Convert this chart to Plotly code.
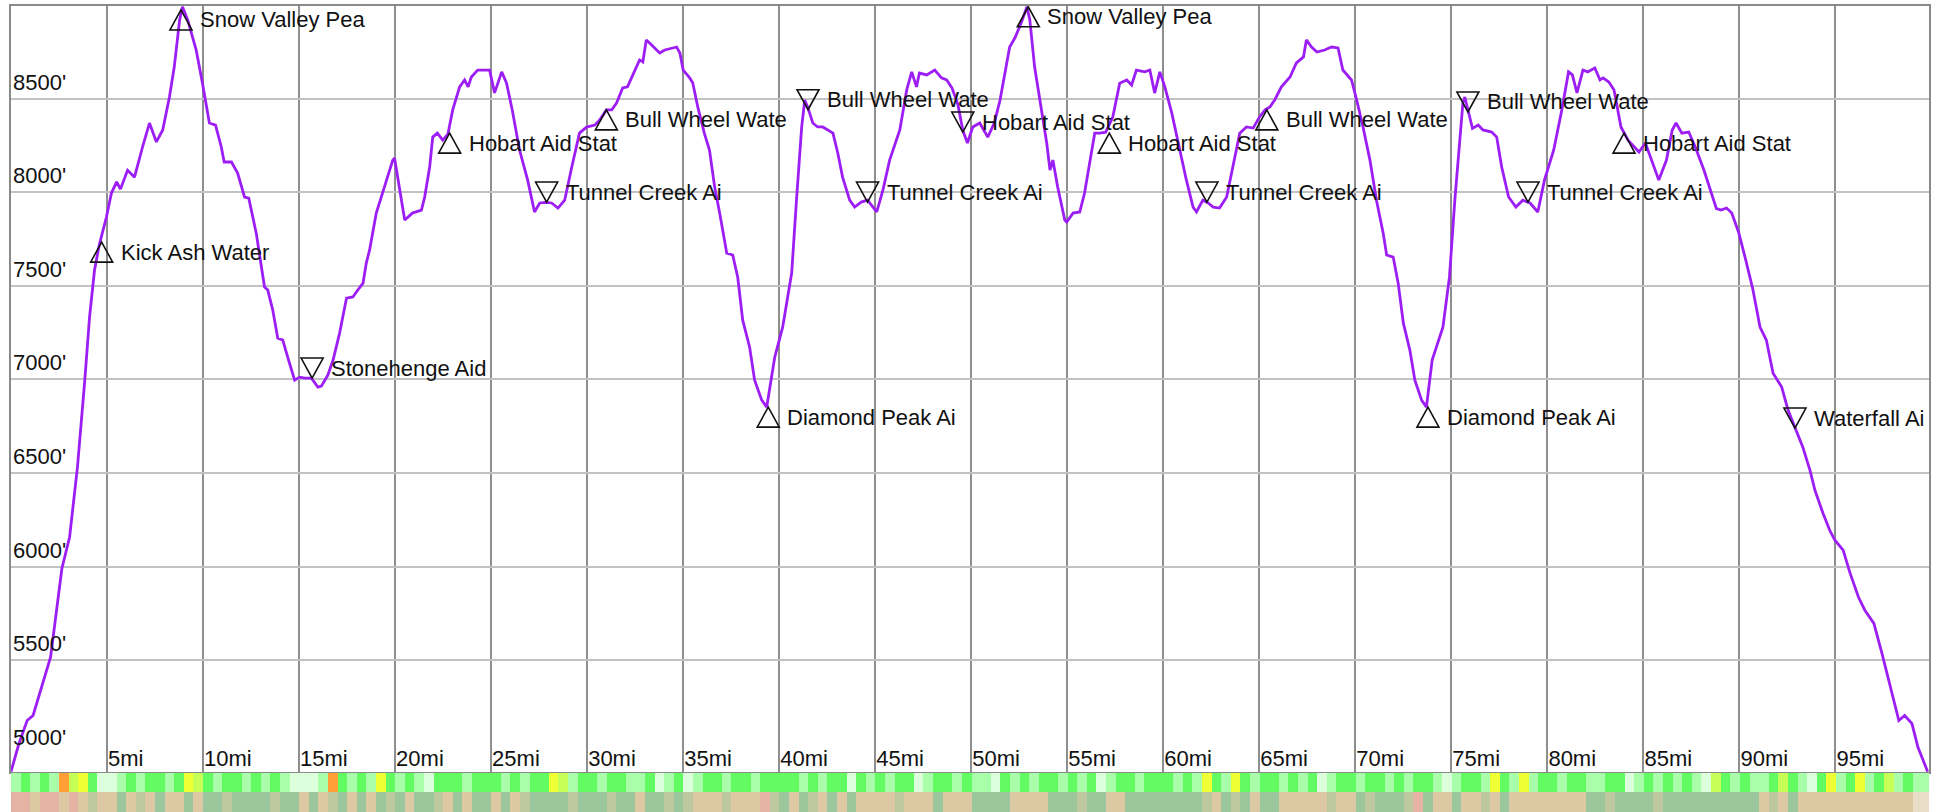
import plotly.graph_objects as go

# ---------------- data ----------------
miles = [0.0, 0.4, 0.84, 1.15, 2.06, 2.65, 3.05, 3.46, 3.83, 4.09, 4.35, 4.6, 4.97, 5.23, 5.5, 5.7,
         6.07, 6.43, 6.85, 7.21, 7.57, 7.9, 8.25, 8.5, 8.78, 8.93, 9.2, 9.64, 9.97, 10.33, 10.65,
         10.95, 11.1, 11.48, 11.8, 12.16, 12.38, 12.77, 13.04, 13.2, 13.37, 13.63, 13.89, 14.15,
         14.5, 14.77, 15.03, 15.3, 15.64, 15.98, 16.16, 16.5, 16.77, 17.11, 17.47, 17.8, 18.06,
         18.33, 18.5, 18.67, 19.02, 19.54, 19.88, 19.97, 20.23, 20.5, 20.9, 21.37, 21.54, 21.8,
         21.96, 22.2, 22.48, 22.75, 23.0, 23.36, 23.62, 23.8, 23.97, 24.3, 24.56, 24.92, 25.18,
         25.55, 25.8, 26.1, 26.48, 26.9, 27.26, 27.53, 27.85, 28.15, 28.48, 28.83, 29.2, 29.6,
         29.97, 30.4, 30.65, 31.0, 31.28, 31.53, 31.85, 32.1, 32.38, 32.73, 32.9, 33.08, 33.25,
         33.5, 33.78, 34.04, 34.4, 34.66, 34.83, 35.0, 35.34, 35.5, 35.76, 36.1, 36.37, 36.64,
         36.9, 37.27, 37.58, 37.84, 38.1, 38.46, 38.72, 39.09, 39.35, 39.77, 40.18, 40.65, 40.9,
         41.17, 41.33, 41.48, 41.75, 42.0, 42.27, 42.53, 42.8, 43.05, 43.3, 43.67, 43.93, 44.27,
         44.6, 45.08, 45.4, 45.75, 46.28, 46.64, 46.9, 47.15, 47.3, 47.68, 48.1, 48.45, 48.72,
         49.0, 49.3, 49.56, 49.8, 50.08, 50.44, 50.86, 51.2, 51.5, 51.75, 52.0, 52.27, 52.6,
         52.9, 53.05, 53.3, 53.67, 53.93, 54.1, 54.25, 54.5, 54.87, 54.97, 55.3, 55.65, 55.9,
         56.28, 56.43, 56.7, 57.0, 57.37, 57.73, 58.1, 58.35, 58.6, 59.04, 59.3, 59.55, 59.82,
         60.08, 60.44, 60.86, 61.2, 61.55, 61.73, 62.06, 62.3, 62.6, 62.93, 63.3, 63.64, 63.98,
         64.33, 64.68, 65.0, 65.3, 65.55, 65.8, 66.15, 66.6, 66.93, 67.3, 67.45, 67.72, 68.0,
         68.4, 68.76, 69.1, 69.35, 69.8, 70.07, 70.4, 70.76, 71.1, 71.45, 71.63, 71.97, 72.23,
         72.5, 72.84, 73.1, 73.45, 73.7, 74.0, 74.56, 74.9, 75.18, 75.36, 75.6, 75.7, 75.86,
         76.1, 76.4, 76.64, 77.1, 77.36, 77.62, 77.98, 78.36, 78.72, 79.1, 79.5, 79.85, 80.33,
         80.75, 81.1, 81.3, 81.54, 81.85, 82.1, 82.47, 82.74, 82.9, 83.2, 83.47, 83.83, 84.2,
         84.77, 85.1, 85.44, 85.8, 86.2, 86.5, 86.7, 87.0, 87.36, 87.7, 88.15, 88.5, 88.8, 89.04,
         89.33, 89.6, 89.97, 90.33, 90.7, 91.07, 91.4, 91.75, 92.2, 92.53, 93.0, 93.3, 93.67,
         93.93, 94.35, 94.7, 94.97, 95.4, 95.76, 96.2, 96.53, 97.0, 97.42, 97.88, 98.3, 98.6,
         98.98, 99.3, 99.8]

elev_ft = [4905, 5050, 5178, 5205, 5516, 5990, 6157, 6531, 6980, 7333, 7584, 7720, 7867, 7995, 8055, 8016,
           8117, 8080, 8241, 8369, 8268, 8332, 8508, 8668, 8919, 8990, 8920, 8760, 8582, 8369, 8358,
           8241, 8161, 8161, 8102, 7974, 7968, 7781, 7600, 7493, 7477, 7370, 7220, 7210,
           7087, 6996, 7012, 7007, 7007, 6959, 6964, 7023, 7103, 7247, 7434, 7440, 7477,
           7514, 7621, 7690, 7888, 8064, 8171, 8182, 8027, 7851, 7888, 7904, 7974, 8134,
           8294, 8315, 8278, 8310, 8439, 8562, 8599, 8562, 8615, 8652, 8652, 8652, 8530,
           8642, 8583, 8439, 8225, 8065, 7894, 7942, 7945, 7942, 7915, 7957, 8134, 8315,
           8347, 8358, 8385, 8439, 8439, 8476, 8556, 8562, 8626, 8706, 8695, 8813, 8796,
           8770, 8743, 8759, 8770, 8775, 8743, 8652, 8610, 8583, 8455, 8315, 8225, 8027,
           7888, 7674, 7664, 7546, 7316, 7172, 6996, 6889, 6852, 7119, 7279, 7568, 7957,
           8347, 8492, 8455, 8369, 8348, 8348, 8332, 8315, 8209, 8080, 7957, 7920, 7947,
           7957, 7894, 8011, 8171, 8332, 8546, 8642, 8562, 8636, 8626, 8652, 8610, 8599,
           8556, 8470, 8330, 8262, 8348, 8369, 8294, 8369, 8492, 8636, 8775, 8823, 8903,
           8990, 8920, 8668, 8439, 8262, 8118, 8171, 8027, 7851, 7840, 7888, 7894, 7995,
           8225, 8315, 8315, 8320, 8401, 8582, 8599, 8572, 8652, 8642, 8652, 8529, 8642,
           8562, 8423, 8225, 8065, 7920, 7894, 7957, 7945, 7920, 7915, 7974, 8155, 8315,
           8348, 8342, 8400, 8439, 8455, 8492, 8562, 8615, 8690, 8722, 8813, 8775, 8748,
           8759, 8775, 8770, 8652, 8599, 8492, 8348, 8171, 7957, 7781, 7664, 7653, 7514,
           7300, 7156, 6996, 6889, 6852, 7103, 7279, 7546, 7957, 8171, 8476, 8508, 8439,
           8340, 8358, 8332, 8321, 8294, 8134, 7974, 7920, 7957, 7942, 7894, 8065, 8225,
           8439, 8642, 8626, 8530, 8652, 8642, 8663, 8599, 8610, 8588, 8545, 8348, 8278,
           8214, 8262, 8171, 8065, 8171, 8332, 8369, 8315, 8321, 8241, 8118, 8011, 7912, 7904,
           7915, 7888, 7781, 7637, 7480, 7279, 7210, 7033, 6959, 6836, 6711, 6638, 6515,
           6408, 6285, 6194, 6141, 6088, 5965, 5836, 5767, 5697, 5537, 5355, 5178, 5205,
           5162, 5034, 4905]

station_names = ["Kick Ash Water", "Snow Valley Pea", "Stonehenge Aid", "Hobart Aid Stat",
                 "Tunnel Creek Ai", "Bull Wheel Wate", "Diamond Peak Ai", "Bull Wheel Wate",
                 "Tunnel Creek Ai", "Hobart Aid Stat", "Snow Valley Pea", "Hobart Aid Stat",
                 "Tunnel Creek Ai", "Bull Wheel Wate", "Diamond Peak Ai", "Bull Wheel Wate",
                 "Tunnel Creek Ai", "Hobart Aid Stat", "Waterfall Ai"]
station_miles = [4.72, 8.85, 15.68, 22.84, 27.89, 31.0, 39.43, 41.5, 44.6, 49.56, 52.97,
                 57.19, 62.27, 65.39, 73.78, 75.86, 78.99, 83.99, 92.89]
station_elev = [7733, 8973, 7007, 8315, 7947, 8439, 6852, 8440, 7947, 8321, 8990,
                8315, 7947, 8439, 6852, 8428, 7947, 8315, 6740]
station_dir = ["up", "up", "down", "up", "down", "up", "up", "down", "down", "down", "up",
               "up", "down", "up", "up", "down", "down", "up", "down"]

x_tick_vals = [5, 10, 15, 20, 25, 30, 35, 40, 45, 50, 55, 60, 65, 70, 75, 80, 85, 90, 95]
x_tick_text = ["5mi", "10mi", "15mi", "20mi", "25mi", "30mi", "35mi", "40mi", "45mi", "50mi",
               "55mi", "60mi", "65mi", "70mi", "75mi", "80mi", "85mi", "90mi", "95mi"]
y_tick_vals = [5000, 5500, 6000, 6500, 7000, 7500, 8000, 8500]
y_tick_text = ["5000'", "5500'", "6000'", "6500'", "7000'", "7500'", "8000'", "8500'"]

# colour strips below the profile, one code per half-mile segment
seg_step_mi = 0.5
grade_strip_blocks = [
    "LGLGLOYyGW", "WLGLGGLGyY", "GLGGLGLGLW", "WWLOGLGLyG", "LGLWGGGLGG",
    "GLGLGGyYLG", "GLGGLLGWLG", "WLGGLGGLGG", "GGLGLGGWGL", "GLGGWLGGLG",
    "LLWGLGLGGL", "GLGWLGGLGG", "GLGLyGLyGL", "GGLGLGWLGG", "LGGLGLGGLW",
    "LGGLyGLyLG", "GLGGLLGGWL", "GLGLGLWYGL", "GLLGYGLWGy", "LGyLGYLGLL"]
terrain_strip_blocks = [
    "PPTPPTPTMT", "TSTMTSTTST", "SSMSSSSMSS", "TSTMSTSTSM", "STSSMTSTSS",
    "TSTMSSSSMS", "SSMSSTSSMS", "MTTTMTTTPM", "STSMTSTSTT", "TTMTTTSTTT",
    "SSSSTTTTSS", "SMSSTTSSSS", "SSSSMTSMST", "SSTTTTTMTT", "SMSSSMPSTT",
    "STTMTSTTTT", "TTTTSSMSSS", "SMSSSSSSSS", "SSTMTSTTTT", "TTTTTTTTtt"]
strip_codes = ["G", "L", "W", "Y", "y", "O", "T", "S", "M", "P", "t"]
strip_colors = ["#62fb62", "#a9ffa9", "#dcffdc", "#c6ff55", "#eeff33", "#ff9f35",
                "#dcc8a2", "#9cc69c", "#bdc89f", "#e4b3a3", "#e9ddc8"]

# ---------------- figure ----------------
FONT = "Liberation Sans, Arial, Helvetica, sans-serif"
LINE_PURPLE = "#9d1ef5"
TEXT_COLOR = "#111111"

grade_strip = "".join(grade_strip_blocks)
terrain_strip = "".join(terrain_strip_blocks)
code_index = {c: i for i, c in enumerate(strip_codes)}
n_seg = len(grade_strip)
seg_edges = [i * seg_step_mi for i in range(n_seg + 1)]
z_rows = [[code_index[c] for c in terrain_strip], [code_index[c] for c in grade_strip]]

n_col = len(strip_colors)
colorscale = []
for i, col in enumerate(strip_colors):
    lo = max(0.0, (i - 0.5) / (n_col - 1))
    hi = min(1.0, (i + 0.5) / (n_col - 1))
    colorscale.append([lo, col])
    colorscale.append([hi, col])

fig = go.Figure()
fig.add_trace(go.Heatmap(
    z=z_rows, x=seg_edges, y=[0, 1], colorscale=colorscale, zmin=0, zmax=n_col - 1,
    showscale=False, hoverinfo="skip", xaxis="x", yaxis="y2", zsmooth=False))
fig.add_trace(go.Scatter(
    x=miles, y=elev_ft, mode="lines", line=dict(color=LINE_PURPLE, width=2.8),
    hoverinfo="skip", xaxis="x", yaxis="y"))

TRI_HALF_W = 11
TRI_H = 20
shapes = []
annotations = []
for name, m, e, d in zip(station_names, station_miles, station_elev, station_dir):
    sgn = -1 if d == "up" else 1
    path = "M0,0 L{},{} L{},{} Z".format(-TRI_HALF_W, sgn * TRI_H, TRI_HALF_W, sgn * TRI_H)
    shapes.append(dict(type="path", xref="x", yref="y", xsizemode="pixel", ysizemode="pixel",
                       xanchor=m, yanchor=e, path=path,
                       line=dict(color=TEXT_COLOR, width=1.6), fillcolor="rgba(0,0,0,0)"))
    annotations.append(dict(x=m, y=e, xref="x", yref="y", text=name, showarrow=False,
                            xanchor="left", yanchor="middle", xshift=17,
                            yshift=sgn * TRI_H / 2,
                            font=dict(family=FONT, size=22, color=TEXT_COLOR)))

# elevation labels drawn inside the plot, just above each gridline
for v, t in zip(y_tick_vals, y_tick_text):
    annotations.append(dict(x=0, y=v, xref="paper", yref="y", text=t, showarrow=False,
                            xanchor="left", yanchor="bottom", xshift=0, yshift=2,
                            font=dict(family=FONT, size=22, color=TEXT_COLOR)))

fig.update_layout(
    width=1942, height=812,
    margin=dict(l=11, r=13, t=6, b=0, pad=0),
    paper_bgcolor="white", plot_bgcolor="white",
    showlegend=False,
    shapes=shapes, annotations=annotations,
    xaxis=dict(range=[0, 99.87], tickmode="array", tickvals=x_tick_vals, ticktext=x_tick_text,
               ticklabelposition="inside right", ticks="", showgrid=True,
               gridcolor="#8e8e8e", gridwidth=1.6, showline=True, linecolor="#8a8a8a",
               linewidth=2, mirror=True, zeroline=False, anchor="y",
               tickfont=dict(family=FONT, size=22, color=TEXT_COLOR)),
    yaxis=dict(domain=[0.0496, 1.0], range=[4903, 8994], tickmode="array",
               tickvals=y_tick_vals, showticklabels=False,
               ticks="", showgrid=True, gridcolor="#c2c2c2", gridwidth=2, showline=True,
               linecolor="#8a8a8a", linewidth=2, mirror=True, zeroline=False, anchor="x"),
    yaxis2=dict(domain=[0.0, 0.0484], range=[-0.5, 1.5], showticklabels=False,
                showgrid=False, zeroline=False, anchor="x"),
)

fig.write_html("out.html",
               config={"displayModeBar": False},
               post_script="document.body.style.margin='0';document.body.style.overflow='hidden';")
